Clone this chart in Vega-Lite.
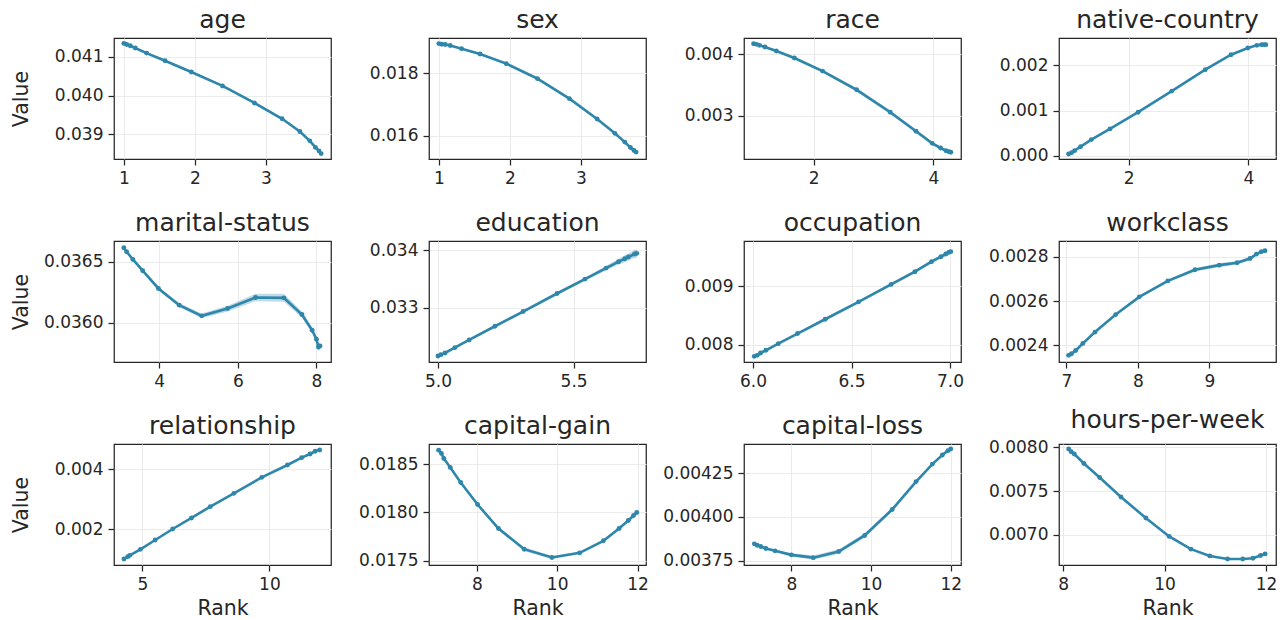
{
"$schema": "https://vega.github.io/schema/vega-lite/v6.json",
"padding": {"left": 10, "top": 7, "right": 5, "bottom": 5},
"background": "white",
"datasets": {
"d": [
{"f":"age","x":1.0,"y":0.04135,"e":0.00002},
{"f":"age","x":1.04,"y":0.04132,"e":0.00002},
{"f":"age","x":1.09,"y":0.04129,"e":0.00002},
{"f":"age","x":1.16,"y":0.04123,"e":0.00002},
{"f":"age","x":1.32,"y":0.0411,"e":0.00003},
{"f":"age","x":1.58,"y":0.0409,"e":0.00003},
{"f":"age","x":1.95,"y":0.04061,"e":0.00003},
{"f":"age","x":2.39,"y":0.04025,"e":0.00003},
{"f":"age","x":2.84,"y":0.03981,"e":0.00003},
{"f":"age","x":3.23,"y":0.0394,"e":0.00003},
{"f":"age","x":3.48,"y":0.03907,"e":0.00003},
{"f":"age","x":3.62,"y":0.03883,"e":0.00003},
{"f":"age","x":3.7,"y":0.03866,"e":0.00003},
{"f":"age","x":3.75,"y":0.03857,"e":0.00003},
{"f":"age","x":3.78,"y":0.0385,"e":0.00003},
{"f":"sex","x":1.0,"y":0.018941,"e":0.00003},
{"f":"sex","x":1.04,"y":0.01892,"e":0.00003},
{"f":"sex","x":1.09,"y":0.01891,"e":0.00003},
{"f":"sex","x":1.16,"y":0.01888,"e":0.00003},
{"f":"sex","x":1.32,"y":0.01878,"e":0.00003},
{"f":"sex","x":1.58,"y":0.01861,"e":0.00004},
{"f":"sex","x":1.95,"y":0.0183,"e":0.00004},
{"f":"sex","x":2.39,"y":0.01782,"e":0.00005},
{"f":"sex","x":2.84,"y":0.01718,"e":0.00004},
{"f":"sex","x":3.23,"y":0.01653,"e":0.00004},
{"f":"sex","x":3.48,"y":0.01607,"e":0.00004},
{"f":"sex","x":3.62,"y":0.01579,"e":0.00004},
{"f":"sex","x":3.7,"y":0.01562,"e":0.00004},
{"f":"sex","x":3.75,"y":0.01552,"e":0.00004},
{"f":"sex","x":3.78,"y":0.01547,"e":0.00004},
{"f":"race","x":1.0,"y":0.004175,"e":0.00002},
{"f":"race","x":1.05,"y":0.004164,"e":0.00002},
{"f":"race","x":1.1,"y":0.004148,"e":0.00002},
{"f":"race","x":1.19,"y":0.00412,"e":0.00002},
{"f":"race","x":1.38,"y":0.004055,"e":0.00002},
{"f":"race","x":1.68,"y":0.00394,"e":0.00002},
{"f":"race","x":2.15,"y":0.003727,"e":0.000025},
{"f":"race","x":2.72,"y":0.003421,"e":0.00003},
{"f":"race","x":3.28,"y":0.003055,"e":0.00003},
{"f":"race","x":3.71,"y":0.002743,"e":0.00003},
{"f":"race","x":3.98,"y":0.002546,"e":0.000025},
{"f":"race","x":4.12,"y":0.00247,"e":0.000025},
{"f":"race","x":4.21,"y":0.002426,"e":0.00002},
{"f":"race","x":4.26,"y":0.00241,"e":0.00002},
{"f":"race","x":4.29,"y":0.0024,"e":0.00002},
{"f":"native-country","x":1.0,"y":0.000037,"e":0.00002},
{"f":"native-country","x":1.05,"y":0.000067,"e":0.00002},
{"f":"native-country","x":1.1,"y":0.000111,"e":0.00002},
{"f":"native-country","x":1.2,"y":0.0002,"e":0.00002},
{"f":"native-country","x":1.38,"y":0.000356,"e":0.00002},
{"f":"native-country","x":1.69,"y":0.000593,"e":0.00002},
{"f":"native-country","x":2.16,"y":0.000963,"e":0.00002},
{"f":"native-country","x":2.72,"y":0.00143,"e":0.00002},
{"f":"native-country","x":3.28,"y":0.001904,"e":0.00002},
{"f":"native-country","x":3.71,"y":0.002237,"e":0.00002},
{"f":"native-country","x":3.99,"y":0.002385,"e":0.00002},
{"f":"native-country","x":4.14,"y":0.002444,"e":0.00002},
{"f":"native-country","x":4.22,"y":0.00246,"e":0.00002},
{"f":"native-country","x":4.26,"y":0.00246,"e":0.00002},
{"f":"native-country","x":4.29,"y":0.00246,"e":0.00002},
{"f":"marital-status","x":3.1,"y":0.036615,"e":0.000008},
{"f":"marital-status","x":3.17,"y":0.036582,"e":0.000009},
{"f":"marital-status","x":3.33,"y":0.036519,"e":0.00001},
{"f":"marital-status","x":3.58,"y":0.036426,"e":0.000012},
{"f":"marital-status","x":3.98,"y":0.03628,"e":0.000015},
{"f":"marital-status","x":4.51,"y":0.036143,"e":0.000018},
{"f":"marital-status","x":5.08,"y":0.036055,"e":0.00002},
{"f":"marital-status","x":5.74,"y":0.036115,"e":0.000024},
{"f":"marital-status","x":6.45,"y":0.036206,"e":0.00003},
{"f":"marital-status","x":7.17,"y":0.036203,"e":0.000033},
{"f":"marital-status","x":7.63,"y":0.036066,"e":0.000025},
{"f":"marital-status","x":7.89,"y":0.035937,"e":0.000022},
{"f":"marital-status","x":8.0,"y":0.035863,"e":0.000025},
{"f":"marital-status","x":8.05,"y":0.035799,"e":0.00003},
{"f":"marital-status","x":8.09,"y":0.035808,"e":0.00003},
{"f":"education","x":5.0,"y":0.032157,"e":0.000015},
{"f":"education","x":5.011,"y":0.03218,"e":0.000015},
{"f":"education","x":5.026,"y":0.032209,"e":0.000015},
{"f":"education","x":5.062,"y":0.032302,"e":0.000015},
{"f":"education","x":5.115,"y":0.032436,"e":0.000018},
{"f":"education","x":5.21,"y":0.032674,"e":0.00002},
{"f":"education","x":5.314,"y":0.03293,"e":0.000025},
{"f":"education","x":5.439,"y":0.033244,"e":0.000025},
{"f":"education","x":5.542,"y":0.033494,"e":0.00003},
{"f":"education","x":5.62,"y":0.033686,"e":0.00004},
{"f":"education","x":5.666,"y":0.033797,"e":0.00005},
{"f":"education","x":5.689,"y":0.033849,"e":0.00006},
{"f":"education","x":5.702,"y":0.033878,"e":0.00006},
{"f":"education","x":5.725,"y":0.03393,"e":0.00007},
{"f":"education","x":5.733,"y":0.033942,"e":0.00008},
{"f":"occupation","x":6.006,"y":0.0078,"e":0.00002},
{"f":"occupation","x":6.021,"y":0.007817,"e":0.00002},
{"f":"occupation","x":6.038,"y":0.007857,"e":0.00002},
{"f":"occupation","x":6.065,"y":0.007903,"e":0.00002},
{"f":"occupation","x":6.128,"y":0.008017,"e":0.00002},
{"f":"occupation","x":6.226,"y":0.008189,"e":0.00002},
{"f":"occupation","x":6.366,"y":0.008434,"e":0.000025},
{"f":"occupation","x":6.536,"y":0.008731,"e":0.000025},
{"f":"occupation","x":6.701,"y":0.009029,"e":0.000025},
{"f":"occupation","x":6.822,"y":0.009246,"e":0.000025},
{"f":"occupation","x":6.906,"y":0.009417,"e":0.00003},
{"f":"occupation","x":6.954,"y":0.009503,"e":0.00003},
{"f":"occupation","x":6.979,"y":0.009549,"e":0.00004},
{"f":"occupation","x":6.994,"y":0.009577,"e":0.00004},
{"f":"occupation","x":7.004,"y":0.009589,"e":0.00004},
{"f":"workclass","x":7.03,"y":0.002355,"e":0.000004},
{"f":"workclass","x":7.07,"y":0.002362,"e":0.000004},
{"f":"workclass","x":7.13,"y":0.002377,"e":0.000004},
{"f":"workclass","x":7.23,"y":0.002409,"e":0.000004},
{"f":"workclass","x":7.4,"y":0.00246,"e":0.000005},
{"f":"workclass","x":7.69,"y":0.002539,"e":0.000005},
{"f":"workclass","x":8.02,"y":0.002619,"e":0.000006},
{"f":"workclass","x":8.42,"y":0.002691,"e":0.000006},
{"f":"workclass","x":8.8,"y":0.002741,"e":0.000008},
{"f":"workclass","x":9.14,"y":0.002762,"e":0.000009},
{"f":"workclass","x":9.39,"y":0.002773,"e":0.000008},
{"f":"workclass","x":9.57,"y":0.002792,"e":0.000007},
{"f":"workclass","x":9.66,"y":0.002812,"e":0.000007},
{"f":"workclass","x":9.73,"y":0.002823,"e":0.000006},
{"f":"workclass","x":9.78,"y":0.002827,"e":0.000006},
{"f":"relationship","x":4.27,"y":0.001011,"e":0.00003},
{"f":"relationship","x":4.42,"y":0.001089,"e":0.00003},
{"f":"relationship","x":4.5,"y":0.001133,"e":0.00003},
{"f":"relationship","x":4.92,"y":0.001333,"e":0.00003},
{"f":"relationship","x":5.5,"y":0.001644,"e":0.00003},
{"f":"relationship","x":6.19,"y":0.002011,"e":0.00003},
{"f":"relationship","x":6.93,"y":0.002378,"e":0.00003},
{"f":"relationship","x":7.67,"y":0.002756,"e":0.00003},
{"f":"relationship","x":8.6,"y":0.0032,"e":0.00003},
{"f":"relationship","x":9.7,"y":0.003733,"e":0.00003},
{"f":"relationship","x":10.71,"y":0.004144,"e":0.00003},
{"f":"relationship","x":11.27,"y":0.004389,"e":0.00003},
{"f":"relationship","x":11.6,"y":0.004511,"e":0.00003},
{"f":"relationship","x":11.8,"y":0.0046,"e":0.00003},
{"f":"relationship","x":11.98,"y":0.004644,"e":0.00003},
{"f":"capital-gain","x":7.05,"y":0.018647,"e":0.00001},
{"f":"capital-gain","x":7.12,"y":0.018612,"e":0.00001},
{"f":"capital-gain","x":7.18,"y":0.018561,"e":0.00001},
{"f":"capital-gain","x":7.34,"y":0.018467,"e":0.00001},
{"f":"capital-gain","x":7.6,"y":0.018311,"e":0.000012},
{"f":"capital-gain","x":8.02,"y":0.018083,"e":0.000014},
{"f":"capital-gain","x":8.54,"y":0.017834,"e":0.000016},
{"f":"capital-gain","x":9.18,"y":0.017619,"e":0.00002},
{"f":"capital-gain","x":9.87,"y":0.017533,"e":0.000016},
{"f":"capital-gain","x":10.56,"y":0.017581,"e":0.000012},
{"f":"capital-gain","x":11.15,"y":0.017706,"e":0.00001},
{"f":"capital-gain","x":11.54,"y":0.017834,"e":0.00001},
{"f":"capital-gain","x":11.77,"y":0.017917,"e":0.00001},
{"f":"capital-gain","x":11.9,"y":0.017969,"e":0.00001},
{"f":"capital-gain","x":11.98,"y":0.018,"e":0.00001},
{"f":"capital-loss","x":7.07,"y":0.003846,"e":0.000005},
{"f":"capital-loss","x":7.14,"y":0.003838,"e":0.000005},
{"f":"capital-loss","x":7.23,"y":0.003831,"e":0.000005},
{"f":"capital-loss","x":7.36,"y":0.003819,"e":0.000006},
{"f":"capital-loss","x":7.59,"y":0.003806,"e":0.000007},
{"f":"capital-loss","x":8.0,"y":0.003783,"e":0.000009},
{"f":"capital-loss","x":8.55,"y":0.003767,"e":0.000012},
{"f":"capital-loss","x":9.19,"y":0.003802,"e":0.000013},
{"f":"capital-loss","x":9.84,"y":0.003894,"e":0.000012},
{"f":"capital-loss","x":10.53,"y":0.004042,"e":0.00001},
{"f":"capital-loss","x":11.13,"y":0.004202,"e":0.000008},
{"f":"capital-loss","x":11.54,"y":0.004302,"e":0.000007},
{"f":"capital-loss","x":11.79,"y":0.004354,"e":0.000006},
{"f":"capital-loss","x":11.93,"y":0.004379,"e":0.000006},
{"f":"capital-loss","x":12.0,"y":0.004388,"e":0.000006},
{"f":"hours-per-week","x":8.11,"y":0.007981,"e":0.00001},
{"f":"hours-per-week","x":8.16,"y":0.00795,"e":0.00001},
{"f":"hours-per-week","x":8.22,"y":0.007923,"e":0.00001},
{"f":"hours-per-week","x":8.41,"y":0.007815,"e":0.00001},
{"f":"hours-per-week","x":8.72,"y":0.007654,"e":0.00001},
{"f":"hours-per-week","x":9.14,"y":0.007431,"e":0.00001},
{"f":"hours-per-week","x":9.63,"y":0.007192,"e":0.00001},
{"f":"hours-per-week","x":10.09,"y":0.006981,"e":0.00001},
{"f":"hours-per-week","x":10.52,"y":0.006835,"e":0.00001},
{"f":"hours-per-week","x":10.89,"y":0.006758,"e":0.00001},
{"f":"hours-per-week","x":11.24,"y":0.006723,"e":0.00001},
{"f":"hours-per-week","x":11.54,"y":0.006723,"e":0.00001},
{"f":"hours-per-week","x":11.74,"y":0.006731,"e":0.00001},
{"f":"hours-per-week","x":11.89,"y":0.006762,"e":0.00001},
{"f":"hours-per-week","x":11.98,"y":0.006781,"e":0.00001}
]
},
"data": {"name": "d"},
"columns": 4,
"spacing": {"row": 82, "column": 98},
"bounds": "flush",
"concat": [
{"title": "age", "width": 217, "height": 121, "transform": [{"filter": "datum.f === 'age'"}],
 "encoding": {
  "x": {"field": "x", "type": "quantitative", "scale": {"domain": [0.861, 3.919], "nice": false, "zero": false}, "axis": {"values": [1, 2, 3], "format": "d", "title": null}},
  "y": {"field": "y", "type": "quantitative", "scale": {"domain": [0.03836, 0.04149], "nice": false, "zero": false}, "axis": {"values": [0.039, 0.040, 0.041], "format": ".3f", "title": "Value", "titleX": -87, "titleBaseline": "alphabetic"}}},
 "layer": [
  {"mark": {"type": "errorband", "color": "#2E86AB", "opacity": 0.3}, "encoding": {"yError": {"field": "e"}}},
  {"mark": {"type": "line", "color": "#2E86AB", "strokeWidth": 2.6, "point": {"filled": true, "size": 24, "color": "#2E86AB"}}}
 ]},
{"title": "sex", "width": 217, "height": 121, "transform": [{"filter": "datum.f === 'sex'"}],
 "encoding": {
  "x": {"field": "x", "type": "quantitative", "scale": {"domain": [0.861, 3.919], "nice": false, "zero": false}, "axis": {"values": [1, 2, 3], "format": "d", "title": null}},
  "y": {"field": "y", "type": "quantitative", "scale": {"domain": [0.01525, 0.01912], "nice": false, "zero": false}, "axis": {"values": [0.016, 0.018], "format": ".3f", "title": null}}},
 "layer": [
  {"mark": {"type": "errorband", "color": "#2E86AB", "opacity": 0.3}, "encoding": {"yError": {"field": "e"}}},
  {"mark": {"type": "line", "color": "#2E86AB", "strokeWidth": 2.6, "point": {"filled": true, "size": 24, "color": "#2E86AB"}}}
 ]},
{"title": "race", "width": 217, "height": 121, "transform": [{"filter": "datum.f === 'race'"}],
 "encoding": {
  "x": {"field": "x", "type": "quantitative", "scale": {"domain": [0.84, 4.46], "nice": false, "zero": false}, "axis": {"values": [2, 4], "format": "d", "title": null}},
  "y": {"field": "y", "type": "quantitative", "scale": {"domain": [0.00229, 0.004268], "nice": false, "zero": false}, "axis": {"values": [0.003, 0.004], "format": ".3f", "title": null}}},
 "layer": [
  {"mark": {"type": "errorband", "color": "#2E86AB", "opacity": 0.3}, "encoding": {"yError": {"field": "e"}}},
  {"mark": {"type": "line", "color": "#2E86AB", "strokeWidth": 2.6, "point": {"filled": true, "size": 24, "color": "#2E86AB"}}}
 ]},
{"title": "native-country", "width": 217, "height": 121, "transform": [{"filter": "datum.f === 'native-country'"}],
 "encoding": {
  "x": {"field": "x", "type": "quantitative", "scale": {"domain": [0.84, 4.46], "nice": false, "zero": false}, "axis": {"values": [2, 4], "format": "d", "title": null}},
  "y": {"field": "y", "type": "quantitative", "scale": {"domain": [-0.000074, 0.002607], "nice": false, "zero": false}, "axis": {"values": [0, 0.001, 0.002], "format": ".3f", "title": null}}},
 "layer": [
  {"mark": {"type": "errorband", "color": "#2E86AB", "opacity": 0.3}, "encoding": {"yError": {"field": "e"}}},
  {"mark": {"type": "line", "color": "#2E86AB", "strokeWidth": 2.6, "point": {"filled": true, "size": 24, "color": "#2E86AB"}}}
 ]},
{"title": "marital-status", "width": 217, "height": 121, "transform": [{"filter": "datum.f === 'marital-status'"}],
 "encoding": {
  "x": {"field": "x", "type": "quantitative", "scale": {"domain": [2.85, 8.37], "nice": false, "zero": false}, "axis": {"values": [4, 6, 8], "format": "d", "title": null}},
  "y": {"field": "y", "type": "quantitative", "scale": {"domain": [0.035676, 0.03667], "nice": false, "zero": false}, "axis": {"values": [0.036, 0.0365], "format": ".4f", "title": "Value", "titleX": -87, "titleBaseline": "alphabetic"}}},
 "layer": [
  {"mark": {"type": "errorband", "color": "#2E86AB", "opacity": 0.3}, "encoding": {"yError": {"field": "e"}}},
  {"mark": {"type": "line", "color": "#2E86AB", "strokeWidth": 2.6, "point": {"filled": true, "size": 24, "color": "#2E86AB"}}}
 ]},
{"title": "education", "width": 217, "height": 121, "transform": [{"filter": "datum.f === 'education'"}],
 "encoding": {
  "x": {"field": "x", "type": "quantitative", "scale": {"domain": [4.967, 5.767], "nice": false, "zero": false}, "axis": {"values": [5.0, 5.5], "format": ".1f", "title": null}},
  "y": {"field": "y", "type": "quantitative", "scale": {"domain": [0.032052, 0.034157], "nice": false, "zero": false}, "axis": {"values": [0.033, 0.034], "format": ".3f", "title": null}}},
 "layer": [
  {"mark": {"type": "errorband", "color": "#2E86AB", "opacity": 0.3}, "encoding": {"yError": {"field": "e"}}},
  {"mark": {"type": "line", "color": "#2E86AB", "strokeWidth": 2.6, "point": {"filled": true, "size": 24, "color": "#2E86AB"}}}
 ]},
{"title": "occupation", "width": 217, "height": 121, "transform": [{"filter": "datum.f === 'occupation'"}],
 "encoding": {
  "x": {"field": "x", "type": "quantitative", "scale": {"domain": [5.954, 7.056], "nice": false, "zero": false}, "axis": {"values": [6.0, 6.5, 7.0], "format": ".1f", "title": null}},
  "y": {"field": "y", "type": "quantitative", "scale": {"domain": [0.007703, 0.009771], "nice": false, "zero": false}, "axis": {"values": [0.008, 0.009], "format": ".3f", "title": null}}},
 "layer": [
  {"mark": {"type": "errorband", "color": "#2E86AB", "opacity": 0.3}, "encoding": {"yError": {"field": "e"}}},
  {"mark": {"type": "line", "color": "#2E86AB", "strokeWidth": 2.6, "point": {"filled": true, "size": 24, "color": "#2E86AB"}}}
 ]},
{"title": "workclass", "width": 217, "height": 121, "transform": [{"filter": "datum.f === 'workclass'"}],
 "encoding": {
  "x": {"field": "x", "type": "quantitative", "scale": {"domain": [6.896, 9.934], "nice": false, "zero": false}, "axis": {"values": [7, 8, 9], "format": "d", "title": null}},
  "y": {"field": "y", "type": "quantitative", "scale": {"domain": [0.002325, 0.002871], "nice": false, "zero": false}, "axis": {"values": [0.0024, 0.0026, 0.0028], "format": ".4f", "title": null}}},
 "layer": [
  {"mark": {"type": "errorband", "color": "#2E86AB", "opacity": 0.3}, "encoding": {"yError": {"field": "e"}}},
  {"mark": {"type": "line", "color": "#2E86AB", "strokeWidth": 2.6, "point": {"filled": true, "size": 24, "color": "#2E86AB"}}}
 ]},
{"title": "relationship", "width": 217, "height": 121, "transform": [{"filter": "datum.f === 'relationship'"}],
 "encoding": {
  "x": {"field": "x", "type": "quantitative", "scale": {"domain": [3.878, 12.426], "nice": false, "zero": false}, "axis": {"values": [5, 10], "format": "d", "title": "Rank"}},
  "y": {"field": "y", "type": "quantitative", "scale": {"domain": [0.000811, 0.004844], "nice": false, "zero": false}, "axis": {"values": [0.002, 0.004], "format": ".3f", "title": "Value", "titleX": -87, "titleBaseline": "alphabetic"}}},
 "layer": [
  {"mark": {"type": "errorband", "color": "#2E86AB", "opacity": 0.3}, "encoding": {"yError": {"field": "e"}}},
  {"mark": {"type": "line", "color": "#2E86AB", "strokeWidth": 2.6, "point": {"filled": true, "size": 24, "color": "#2E86AB"}}}
 ]},
{"title": "capital-gain", "width": 217, "height": 121, "transform": [{"filter": "datum.f === 'capital-gain'"}],
 "encoding": {
  "x": {"field": "x", "type": "quantitative", "scale": {"domain": [6.811, 12.21], "nice": false, "zero": false}, "axis": {"values": [8, 10, 12], "format": "d", "title": "Rank"}},
  "y": {"field": "y", "type": "quantitative", "scale": {"domain": [0.017455, 0.018711], "nice": false, "zero": false}, "axis": {"values": [0.0175, 0.018, 0.0185], "format": ".4f", "title": null}}},
 "layer": [
  {"mark": {"type": "errorband", "color": "#2E86AB", "opacity": 0.3}, "encoding": {"yError": {"field": "e"}}},
  {"mark": {"type": "line", "color": "#2E86AB", "strokeWidth": 2.6, "point": {"filled": true, "size": 24, "color": "#2E86AB"}}}
 ]},
{"title": "capital-loss", "width": 217, "height": 121, "transform": [{"filter": "datum.f === 'capital-loss'"}],
 "encoding": {
  "x": {"field": "x", "type": "quantitative", "scale": {"domain": [6.811, 12.258], "nice": false, "zero": false}, "axis": {"values": [8, 10, 12], "format": "d", "title": "Rank"}},
  "y": {"field": "y", "type": "quantitative", "scale": {"domain": [0.003725, 0.004417], "nice": false, "zero": false}, "axis": {"values": [0.00375, 0.004, 0.00425], "format": ".5f", "title": null}}},
 "layer": [
  {"mark": {"type": "errorband", "color": "#2E86AB", "opacity": 0.3}, "encoding": {"yError": {"field": "e"}}},
  {"mark": {"type": "line", "color": "#2E86AB", "strokeWidth": 2.6, "point": {"filled": true, "size": 24, "color": "#2E86AB"}}}
 ]},
{"title": "hours-per-week", "width": 217, "height": 121, "transform": [{"filter": "datum.f === 'hours-per-week'"}],
 "encoding": {
  "x": {"field": "x", "type": "quantitative", "scale": {"domain": [7.919, 12.195], "nice": false, "zero": false}, "axis": {"values": [8, 10, 12], "format": "d", "title": "Rank"}},
  "y": {"field": "y", "type": "quantitative", "scale": {"domain": [0.006654, 0.008038], "nice": false, "zero": false}, "axis": {"values": [0.007, 0.0075, 0.008], "format": ".4f", "title": null}}},
 "layer": [
  {"mark": {"type": "errorband", "color": "#2E86AB", "opacity": 0.3}, "encoding": {"yError": {"field": "e"}}},
  {"mark": {"type": "line", "color": "#2E86AB", "strokeWidth": 2.6, "point": {"filled": true, "size": 24, "color": "#2E86AB"}}}
 ]}
],
"resolve": {"scale": {"x": "independent", "y": "independent"}},
"config": {
 "view": {"stroke": "#262626", "strokeWidth": 1.25},
 "axis": {"domain": false, "grid": true, "gridColor": "#ebebeb", "gridWidth": 1, "tickColor": "#262626", "tickSize": 6, "tickWidth": 1.25, "labelFont": "DejaVu Sans", "labelFontSize": 17, "labelColor": "#262626", "labelPadding": 5, "labelFlush": false, "labelOverlap": false, "titleFont": "DejaVu Sans", "titleFontSize": 20.5, "titleFontWeight": "normal", "titleColor": "#262626"},
 "axisX": {"titlePadding": 6},
 "axisY": {"titlePadding": 10},
 "title": {"font": "DejaVu Sans", "fontSize": 25, "fontWeight": "normal", "color": "#262626", "offset": 5}
}
}
